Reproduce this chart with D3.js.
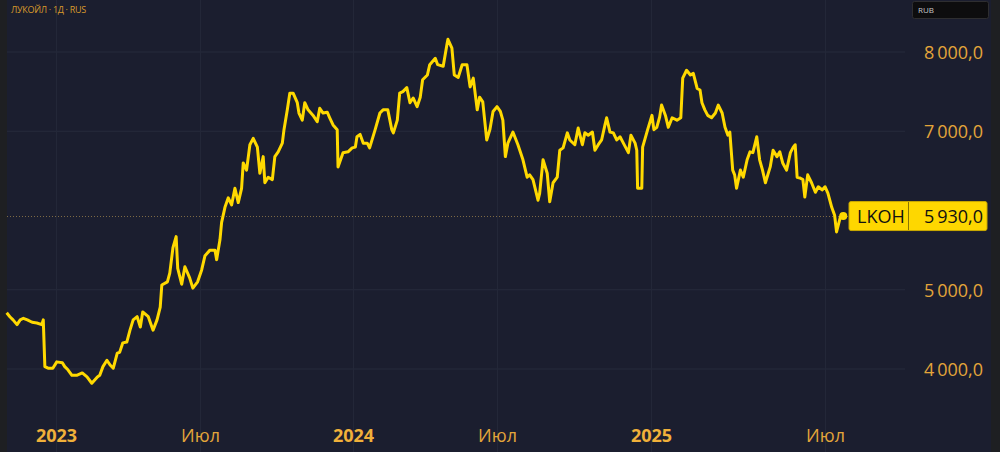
<!DOCTYPE html>
<html><head><meta charset="utf-8">
<script src="https://cdn.jsdelivr.net/npm/d3@7/dist/d3.min.js"></script>
<style>
html,body{margin:0;padding:0;background:#1b1e2f;}
svg{display:block;}
</style></head>
<body>
<svg id="c" width="1000" height="452"></svg>
<script>
const dates = ["2022-10-31","2022-11-04","2022-11-08","2022-11-13","2022-11-17","2022-11-21","2022-11-26","2022-12-02","2022-12-08","2022-12-14","2022-12-16","2022-12-18","2022-12-22","2022-12-28",
"2023-01-02","2023-01-09","2023-01-12","2023-01-16","2023-01-21","2023-01-27","2023-02-03","2023-02-09","2023-02-15","2023-02-22","2023-02-25","2023-03-01","2023-03-06","2023-03-10","2023-03-14","2023-03-19","2023-03-22","2023-03-26","2023-03-31","2023-04-04","2023-04-08","2023-04-13","2023-04-17","2023-04-20","2023-04-27","2023-05-03","2023-05-08","2023-05-12","2023-05-14","2023-05-21","2023-05-24","2023-05-28","2023-06-01","2023-06-03","2023-06-08","2023-06-12","2023-06-18","2023-06-22","2023-06-28",
"2023-07-03","2023-07-07","2023-07-13","2023-07-19","2023-07-21","2023-07-25","2023-07-27","2023-07-31","2023-08-04","2023-08-08","2023-08-12","2023-08-16","2023-08-20","2023-08-22","2023-08-26","2023-08-30","2023-09-03","2023-09-08","2023-09-11","2023-09-15","2023-09-17","2023-09-21","2023-09-26","2023-09-29","2023-10-03","2023-10-08","2023-10-10","2023-10-14","2023-10-17","2023-10-21","2023-10-26","2023-10-28","2023-11-01","2023-11-04","2023-11-08","2023-11-14","2023-11-19","2023-11-22","2023-11-26","2023-12-01","2023-12-04","2023-12-08","2023-12-13","2023-12-14","2023-12-16","2023-12-20","2023-12-26","2023-12-31",
"2024-01-04","2024-01-06","2024-01-10","2024-01-14","2024-01-19","2024-01-22","2024-01-29","2024-02-04","2024-02-08","2024-02-14","2024-02-19","2024-02-21","2024-02-26","2024-02-29","2024-03-04","2024-03-09","2024-03-13","2024-03-17","2024-03-22","2024-03-26","2024-03-29","2024-04-04","2024-04-07","2024-04-14","2024-04-17","2024-04-24","2024-04-29","2024-04-30","2024-05-05","2024-05-08","2024-05-13","2024-05-18","2024-05-24","2024-05-28","2024-06-01","2024-06-06","2024-06-09","2024-06-13","2024-06-18","2024-06-22","2024-06-26",
"2024-07-01","2024-07-05","2024-07-08","2024-07-11","2024-07-14","2024-07-20","2024-07-26","2024-08-01","2024-08-06","2024-08-09","2024-08-13","2024-08-19","2024-08-21","2024-08-25","2024-08-30","2024-09-02","2024-09-06","2024-09-11","2024-09-14","2024-09-18","2024-09-23","2024-09-26","2024-10-02","2024-10-06","2024-10-11","2024-10-14","2024-10-18","2024-10-23","2024-10-26","2024-10-30","2024-11-03","2024-11-07","2024-11-09","2024-11-13","2024-11-17","2024-11-21","2024-11-25","2024-11-29","2024-12-05","2024-12-08","2024-12-13","2024-12-15","2024-12-16","2024-12-21","2024-12-22","2024-12-25","2024-12-28",
"2025-01-02","2025-01-04","2025-01-07","2025-01-10","2025-01-12","2025-01-16","2025-01-19","2025-01-23","2025-01-28","2025-02-01","2025-02-03","2025-02-07","2025-02-11","2025-02-14","2025-02-18","2025-02-21","2025-02-23","2025-02-26","2025-03-01","2025-03-05","2025-03-09","2025-03-12","2025-03-16","2025-03-19","2025-03-22","2025-03-24","2025-03-27","2025-03-29","2025-03-31","2025-04-04","2025-04-07","2025-04-11","2025-04-14","2025-04-17","2025-04-21","2025-04-24","2025-04-27","2025-04-30","2025-05-05","2025-05-08","2025-05-12","2025-05-15","2025-05-18","2025-05-22","2025-05-26","2025-05-29","2025-05-31","2025-06-02","2025-06-05","2025-06-08","2025-06-10","2025-06-13","2025-06-17","2025-06-21","2025-06-24","2025-06-28","2025-07-01","2025-07-04","2025-07-08","2025-07-11","2025-07-13","2025-07-17","2025-07-20"];

const prices = [4710,4660,4620,4560,4620,4640,4620,4590,4580,4560,4620,4030,4010,4010,
4090,4080,4030,3990,3920,3920,3950,3900,3820,3900,3920,4030,4110,4050,4010,4200,4210,4330,4340,4490,4620,4660,4530,4720,4660,4490,4620,4780,5060,5100,5210,5530,5670,5270,5070,5290,5150,5020,5100,
5250,5430,5500,5500,5380,5630,5850,6040,6160,6070,6280,6100,6280,6600,6510,6830,6910,6800,6470,6680,6350,6420,6390,6680,6740,6850,7020,7270,7480,7480,7360,7230,7140,7360,7270,7200,7120,7290,7230,7240,7170,7080,7020,6550,6610,6730,6740,6790,
6800,6930,6960,6850,6850,6790,7020,7230,7270,7270,7020,6980,7140,7480,7500,7550,7360,7420,7310,7430,7650,7710,7840,7920,7840,7820,8110,8160,8050,7710,7680,7840,7840,7560,7670,7270,7430,7370,6890,7020,7250,
7310,7250,7140,6680,6850,6990,6830,6640,6420,6450,6390,6130,6220,6640,6470,6110,6350,6420,6760,6790,6980,6890,6830,7040,6830,6980,6950,6990,6760,6830,6890,7080,7170,6990,6980,6890,6930,6850,6730,6950,6850,6760,6280,6280,6800,6910,7020,
7200,7020,7050,7180,7330,7200,7050,7170,7140,7170,7670,7770,7710,7730,7540,7520,7360,7270,7200,7170,7230,7330,7230,7050,6950,6990,6510,6450,6280,6510,6420,6640,6740,6730,6930,6640,6510,6350,6550,6760,6680,6740,6600,6510,6730,6800,6830,6420,6410,6390,6170,6450,6350,6230,6300,6260,6300,6220,6040,5940,5730,5920,5930];

const yTicks = [4000,5000,6000,7000,8000];
const xTickDates = ["2023-01-01","2023-07-01","2024-01-01","2024-07-01","2025-01-01","2025-07-01"];
const xTickLabels = ["2023","Июл","2024","Июл","2025","Июл"];
const ticker = "LKOH";
const lastPrice = 5930;
const titleText = "ЛУКОЙЛ · 1Д · RUS";
const currency = "RUB";

const parse = d3.utcParse("%Y-%m-%d");
const data = dates.map((d,i)=>({date:parse(d), v:prices[i]}));
const tickDates = xTickDates.map(parse);

const svg = d3.select("#c");
const W=1000,H=452;
const plotLeft=7, plotRight=905;

// background
svg.append("rect").attr("x",0).attr("y",0).attr("width",W).attr("height",H).attr("fill","#1b1e2f");
svg.append("rect").attr("x",0).attr("y",0).attr("width",7).attr("height",H).attr("fill","#1e1f22");
svg.append("rect").attr("x",991).attr("y",0).attr("width",9).attr("height",H).attr("fill","#1e1f22");

const x = d3.scaleUtc().domain(tickDates).range([56,200,353,497,651,825]);
const y = d3.scaleLinear().domain([4000,8000]).range([369,52]);

const fmt = v => d3.format(",.1f")(v).replace(",","\u2009").replace(".",",");

// grid
const grid = svg.append("g");
grid.selectAll("line.h").data(yTicks.filter(t=>t!==6000)).join("line")
  .attr("x1",plotLeft).attr("x2",plotRight)
  .attr("y1",d=>y(d)).attr("y2",d=>y(d))
  .attr("stroke","#272b3d").attr("stroke-width",1);
grid.selectAll("line.v").data(tickDates).join("line")
  .attr("x1",d=>Math.round(x(d))+0.5).attr("x2",d=>Math.round(x(d))+0.5)
  .attr("y1",0).attr("y2",H)
  .attr("stroke","#232738").attr("stroke-width",1);

// y axis labels
const yAxis = d3.axisRight(y).tickValues(yTicks.filter(t=>t!==6000)).tickSize(0).tickFormat(fmt);
const gy = svg.append("g").attr("transform","translate(983,0)").call(yAxis);
gy.select(".domain").remove();
gy.selectAll("text").attr("x",0).attr("text-anchor","end").attr("dy","0.35em")
  .attr("fill","#e3a53a").style("font-family","'Open Sans',sans-serif").style("font-size","18px");

// x axis labels
const xAxis = d3.axisBottom(x).tickValues(tickDates).tickSize(0).tickFormat((d,i)=>xTickLabels[i]);
const gx = svg.append("g").attr("transform","translate(0,428)").call(xAxis);
gx.select(".domain").remove();
gx.selectAll("text").attr("y",0).attr("dy","0.75em")
  .attr("fill",(d,i)=>i%2===0?"#f0b03a":"#e3a53a")
  .style("font-family","'Open Sans',sans-serif").style("font-size","18px")
  .style("font-weight",(d,i)=>i%2===0?"700":"400");

// last price dashed line
svg.append("line").attr("x1",plotLeft).attr("x2",849)
  .attr("y1",Math.round(y(lastPrice))+0.5).attr("y2",Math.round(y(lastPrice))+0.5)
  .attr("stroke","#7d6a45").attr("stroke-width",1).attr("stroke-dasharray","1,2");

// line
const line = d3.line().x(d=>x(d.date)).y(d=>y(d.v));
svg.append("path").datum(data).attr("d",line).attr("fill","none")
  .attr("stroke","#ffd900").attr("stroke-width",3).attr("stroke-linejoin","round");

const last = data[data.length-1];
svg.append("circle").attr("cx",x(last.date)).attr("cy",y(last.v)).attr("r",4).attr("fill","#ffd900");

// price tag
const ty = y(lastPrice);
const tag = svg.append("g");
tag.append("rect").attr("x",849).attr("y",ty-14.5).attr("width",138).attr("height",29).attr("rx",2)
  .attr("fill","#fed700").attr("stroke","#c9a800").attr("stroke-width",1);
tag.append("line").attr("x1",908.5).attr("x2",908.5).attr("y1",ty-14).attr("y2",ty+14).attr("stroke","#8a7400");
tag.append("text").attr("x",857).attr("y",ty).attr("dy","0.36em").text(ticker)
  .attr("fill","#111").style("font-family","'Open Sans',sans-serif").style("font-size","18px");
tag.append("text").attr("x",983).attr("y",ty).attr("dy","0.36em").attr("text-anchor","end").text(fmt(lastPrice))
  .attr("fill","#111").style("font-family","'Open Sans',sans-serif").style("font-size","18px");

// title
svg.append("text").attr("x",11).attr("y",13).text(titleText)
  .attr("fill","#d99a2b").style("font-family","'Open Sans',sans-serif").style("font-size","9px").style("letter-spacing","-0.3px");

// currency box
svg.append("rect").attr("x",912.5).attr("y",1.5).attr("width",76).attr("height",17).attr("rx",2)
  .attr("fill","#0d0d0e").attr("stroke","#2e2e30");
svg.append("text").attr("x",918).attr("y",13).text(currency)
  .attr("fill","#c8c8c8").style("font-family","'Open Sans',sans-serif").style("font-size","8px");
</script>
</body></html>
